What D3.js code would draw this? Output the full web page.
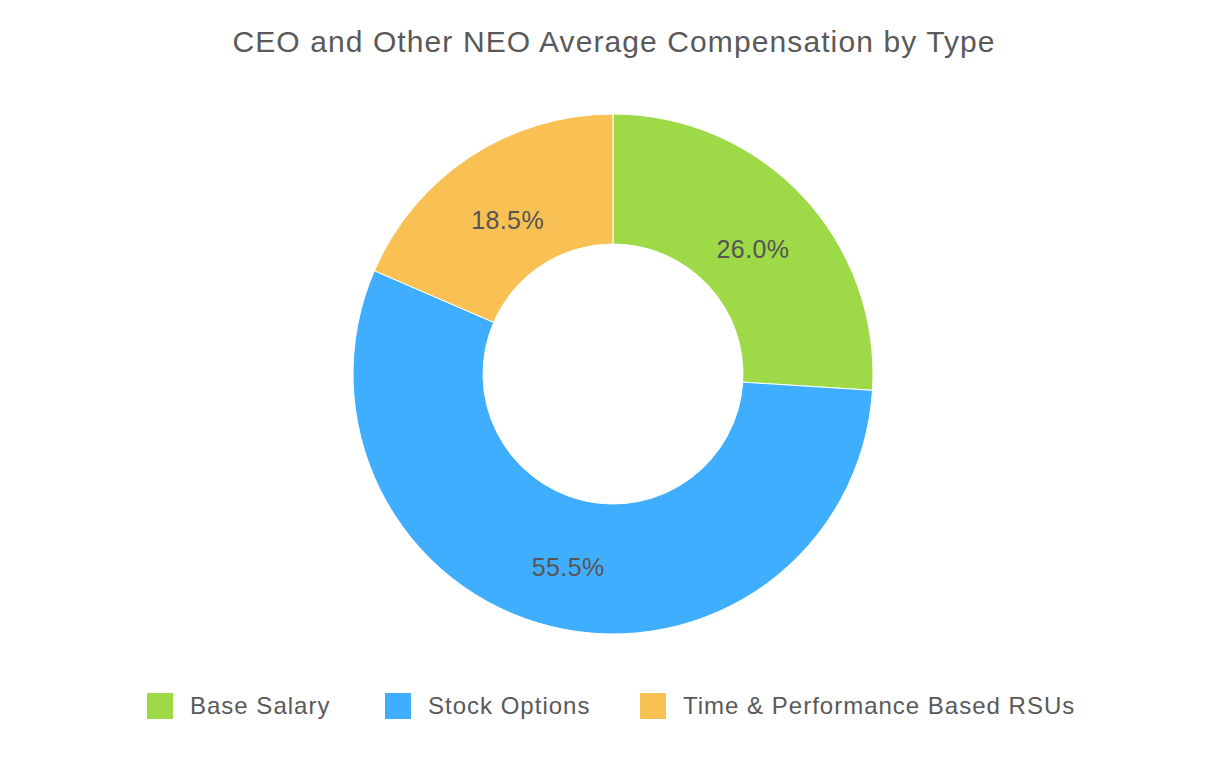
<!DOCTYPE html>
<html>
<head>
<meta charset="utf-8">
<script src="https://cdn.jsdelivr.net/npm/d3@7"></script>
<style>
  body { margin: 0; background: #fff; }
  svg { font-family: "Liberation Sans", Arial, sans-serif; }
</style>
</head>
<body>
<svg id="chart"></svg>
<script>
var categories = ["Base Salary", "Stock Options", "Time & Performance Based RSUs"];
var values = [26.0, 55.5, 18.5];
var colors = ["#9ed947", "#40aefe", "#f9c154"];

var width = 1226, height = 760;
var cx = 613, cy = 374, outerR = 260, innerR = 130;

var svg = d3.select("#chart")
    .attr("width", width)
    .attr("height", height);

svg.append("text")
    .attr("x", 614)
    .attr("y", 52)
    .attr("text-anchor", "middle")
    .attr("font-size", "30px")
    .attr("letter-spacing", "1.1px")
    .attr("fill", "#595959")
    .text("CEO and Other NEO Average Compensation by Type");

var data = categories.map(function (c, i) { return {name: c, value: values[i], color: colors[i]}; });

var pie = d3.pie().sort(null).value(function (d) { return d.value; });
var arc = d3.arc().innerRadius(innerR).outerRadius(outerR);
var labelArc = d3.arc().innerRadius(192).outerRadius(192);

var g = svg.append("g").attr("transform", "translate(" + cx + "," + cy + ")");

g.selectAll("path")
    .data(pie(data))
    .enter()
    .append("path")
    .attr("d", arc)
    .attr("fill", function (d) { return d.data.color; })
    .attr("stroke", "#fff")
    .attr("stroke-width", 1);

g.selectAll("text")
    .data(pie(data))
    .enter()
    .append("text")
    .attr("transform", function (d) {
        var c = labelArc.centroid(d);
        return "translate(" + c[0] + "," + (c[1] + 15) + ")";
    })
    .attr("text-anchor", "middle")
    .attr("font-size", "25px")
    .attr("letter-spacing", "0.4px")
    .attr("fill", "#555")
    .text(function (d) { return d.data.value.toFixed(1) + "%"; });

// legend
var legendX = [147, 385, 640];
var legend = svg.selectAll(".legend")
    .data(data)
    .enter()
    .append("g")
    .attr("class", "legend")
    .attr("transform", function (d, i) { return "translate(" + legendX[i] + ",693)"; });

legend.append("rect")
    .attr("width", 26)
    .attr("height", 26)
    .attr("fill", function (d) { return d.color; });

legend.append("text")
    .attr("x", 43)
    .attr("y", 21)
    .attr("font-size", "24px")
    .attr("letter-spacing", "1px")
    .attr("fill", "#595959")
    .text(function (d) { return d.name; });
</script>
</body>
</html>
